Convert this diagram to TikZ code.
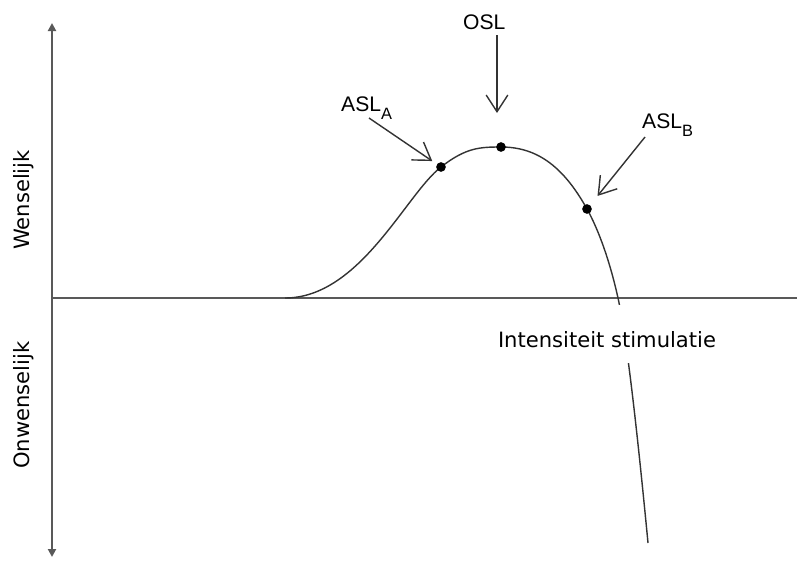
\documentclass[tikz,border=0pt]{standalone}
\usepackage{fontspec}
\setmainfont{DejaVu Sans}
\newfontfamily\arialfont{Liberation Sans}
\usetikzlibrary{arrows.meta}

\newcommand{\aslsub}[1]{ASL\raisebox{-7.5pt}{\fontsize{14}{14}\selectfont #1}}

\begin{document}
\begin{tikzpicture}[x=0.03cm, y=-0.03cm,
axis/.style = {draw=black!65, line width=1.7pt},
curve/.style = {draw=black!80, line width=1.2pt},
pointer/.style = {draw=black!80, line width=1.2pt,
                  -{Straight Barb[length=0.5cm, width=0.65cm]}},
point/.style = {circle, fill=black, inner sep=0pt, minimum size=0.29cm},
tag/.style = {font=\arialfont\fontsize{18}{20}\selectfont, inner sep=0pt},
side/.style = {font=\fontsize{18}{20}\selectfont, rotate=90}]

\useasboundingbox (0,0) rectangle (797,561);

% axes
\coordinate (top) at (52,23);
\coordinate (bottom) at (52,557);
\coordinate (origin) at (52,298);
\coordinate (right) at (797,298);
\draw[axis, {Triangle[length=0.24cm, width=0.24cm]}-{Triangle[length=0.24cm, width=0.24cm]}]
  (bottom) -- (top);
\path[axis] (origin) -- (right);

\node[side] (good) at (24,200) {Wenselijk};
\node[side] (bad) at (24,405) {Onwenselijk};

% response curve
\draw[curve] (285,298) .. controls (360,298) and (406,194) .. (441,167)
  .. controls (466,147.5) and (480,147) .. (501,147)
  .. controls (535,147) and (562,164) .. (587,209)
  .. controls (599,230.6) and (610,262) .. (618,298)
  .. controls (628,343) and (640,460) .. (648,543);

\node[anchor=base, fill=white, inner xsep=4pt, inner ysep=0pt, text height=36pt,
      text depth=13.6pt, font=\fontsize{18}{20}\selectfont]
  (xlabel) at (607,347) {Intensiteit stimulatie};

\node[point] (ptA) at (441,167) {};
\node[point] (opt) at (501,147) {};
\node[point] (ptB) at (587,209) {};

\node[tag, anchor=base west] (osl) at (463,29) {OSL};
\node[tag, anchor=base west] (aslA) at (341,111) {\aslsub{A}};
\node[tag, anchor=base west] (aslB) at (642,128) {\aslsub{B}};

\coordinate (tailO) at (497,35);
\coordinate (tailA) at (369,118);
\coordinate (tailB) at (645,137);

\draw[pointer, shorten >=1.02cm] (tailO) -- (tailO |- opt);
\draw[pointer, shorten >=0.165cm] (tailA) -- (ptA);
\draw[pointer, shorten >=0.35cm] (tailB) -- (ptB);
\end{tikzpicture}
\end{document}
